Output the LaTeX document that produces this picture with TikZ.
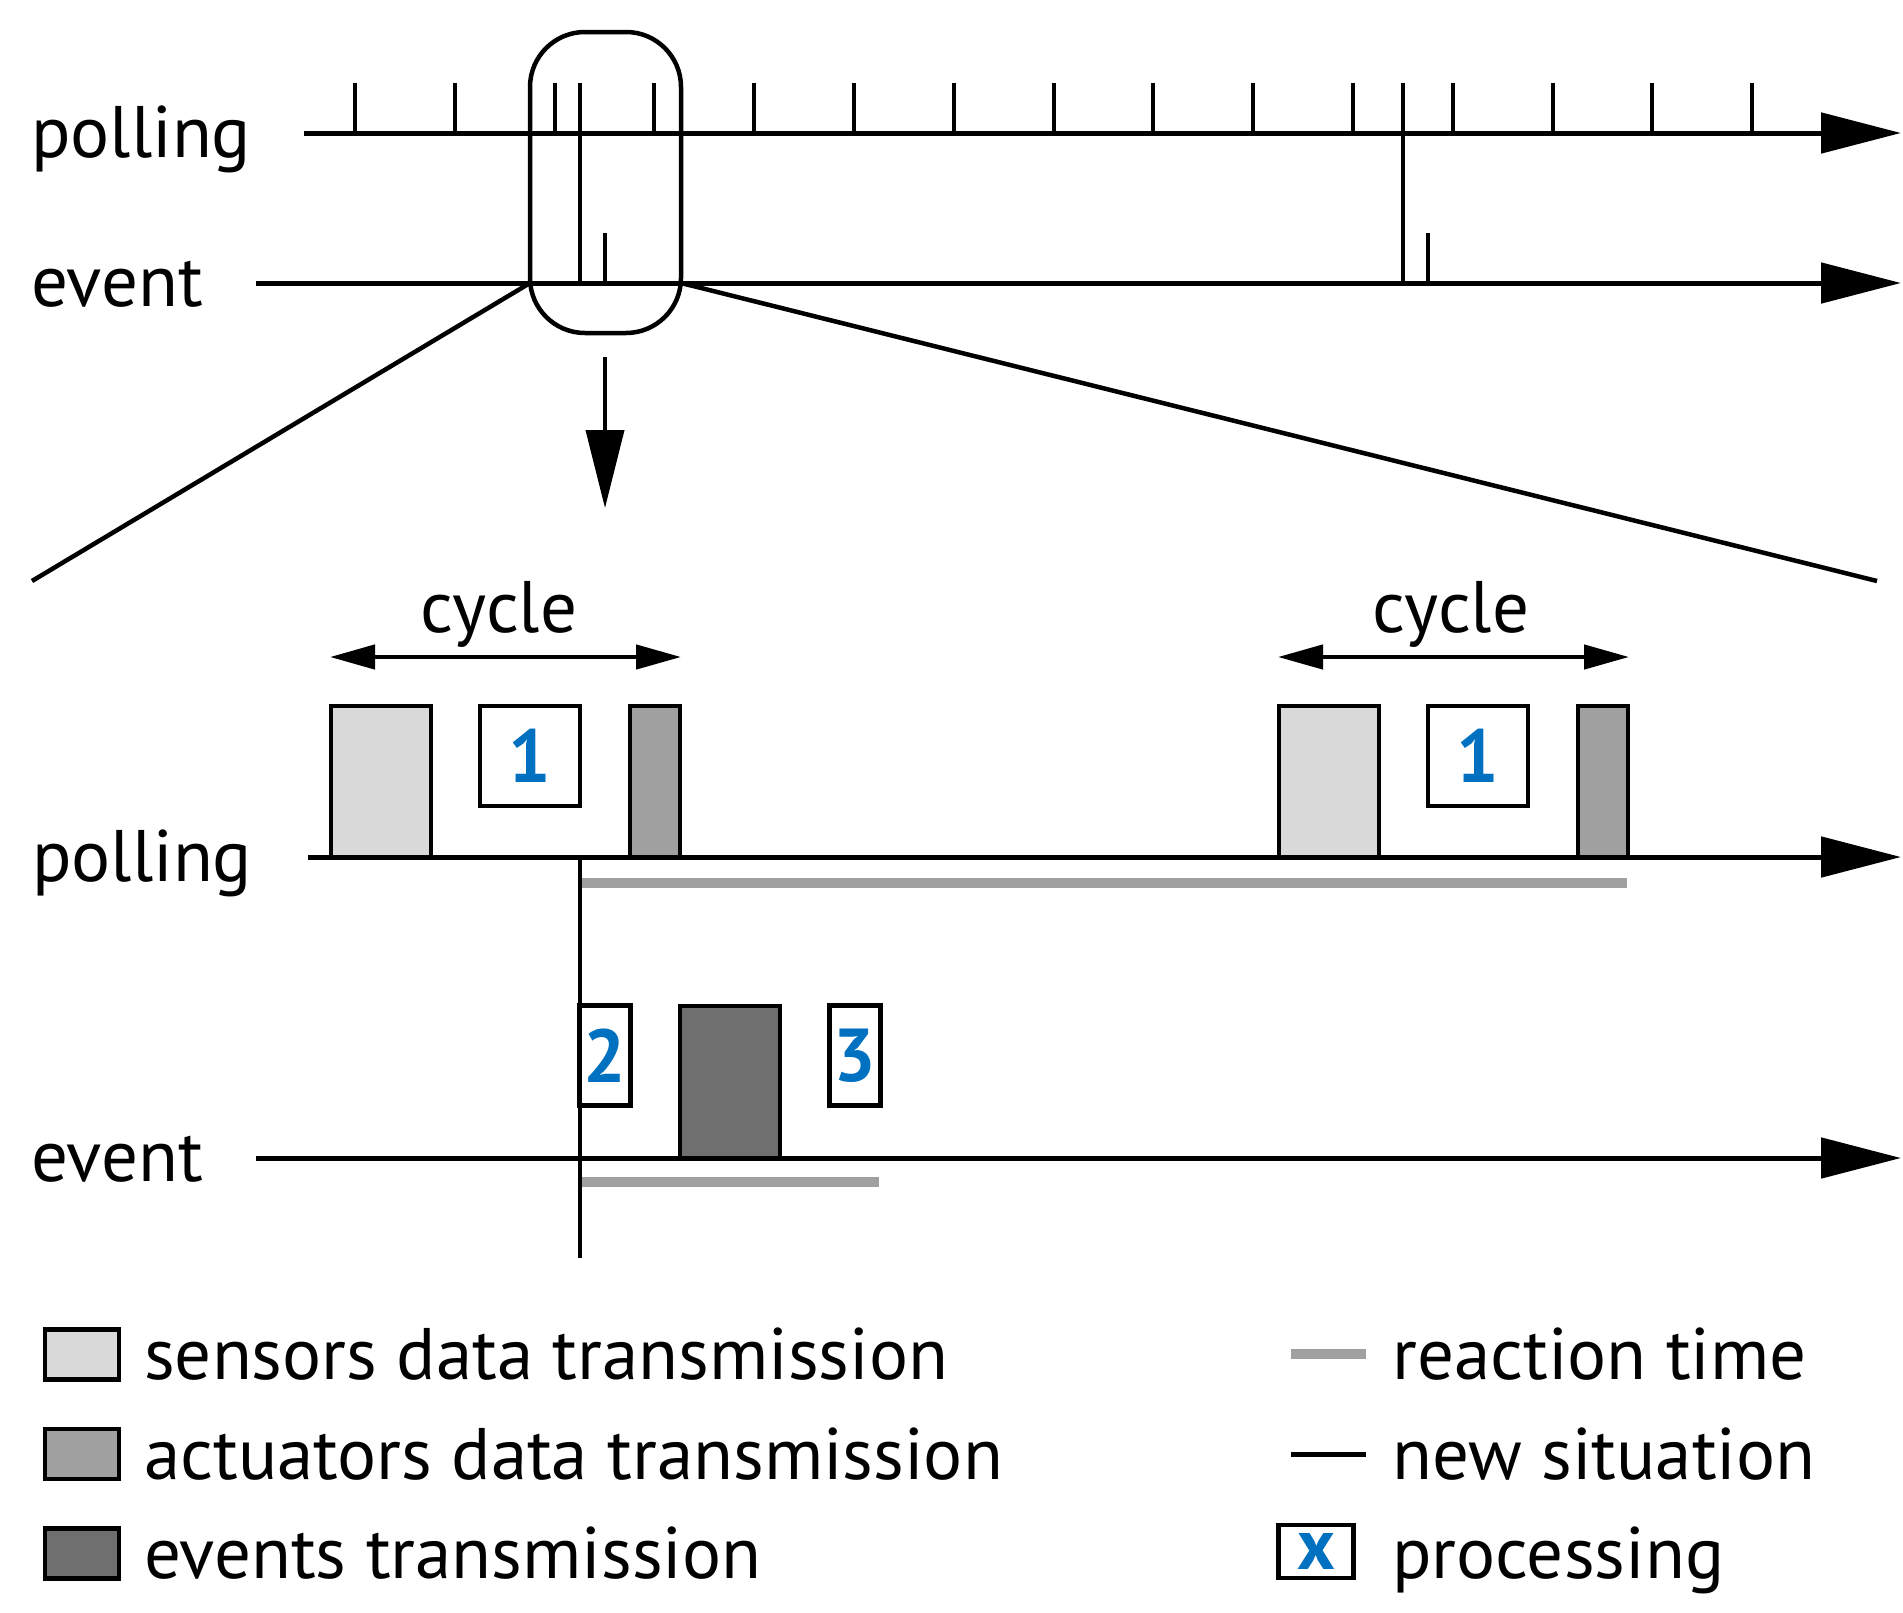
\documentclass[tikz,border=0pt]{standalone}
\usepackage{fontspec}
\setmainfont{PT Sans}
\usetikzlibrary{arrows.meta}
\definecolor{lightfill}{HTML}{D9D9D9}
\definecolor{midfill}{HTML}{A0A0A0}
\definecolor{darkfill}{HTML}{6F6F6F}
\definecolor{numblue}{HTML}{0070C0}
\definecolor{reactgray}{HTML}{A0A0A0}
\begin{document}
\begin{tikzpicture}[x=1pt,y=-1pt,
  axisline/.style={line width=5pt,-{Triangle[length=80pt,width=40pt]}},
  tickline/.style={line width=4pt},
  frame/.style={draw,line width=4.5pt,inner sep=0pt,outer sep=0pt},
  sbox/.style={frame,fill=lightfill,minimum width=100pt,minimum height=151pt},
  abox/.style={frame,fill=midfill,minimum width=50pt,minimum height=151pt},
  ebox/.style={frame,fill=darkfill,minimum width=100pt,minimum height=152pt},
  pbox/.style={frame,fill=white,minimum height=100pt,text=numblue,font=\fontsize{75}{75}\selectfont\bfseries},
  lbl/.style={font=\fontsize{73}{86}\selectfont,inner sep=0pt,anchor=base west},
  cyclearrow/.style={line width=4.5pt,{Triangle[length=45pt,width=24pt]}-{Triangle[length=45pt,width=24pt]}},
  react/.style={line width=9.5pt,draw=reactgray},
  newsit/.style={line width=4pt}]
\useasboundingbox (0,0) rectangle (1903,1612);

% ---------- top overview ----------
\node[lbl] (tpoll) at (31,157) {polling};
\node[lbl] (tevent) at (31,306) {event};
\coordinate (tpS) at (304,133);
\coordinate (tpE) at (1901,133);
\coordinate (teS) at (256,283);
\coordinate (teE) at (1901,283);
\draw[axisline] (tpS) -- (tpE);
\draw[axisline] (teS) -- (teE);
\foreach \k in {0,...,14}{
  \coordinate (tk\k a) at ({355+99.8*\k},83);
  \coordinate (tk\k b) at ({355+99.8*\k},133);
  \draw[tickline] (tk\k a) -- (tk\k b);
}
\coordinate (ns1a) at (579.5,83);
\coordinate (ns1b) at (579.5,283);
\coordinate (ns2a) at (1403,83);
\coordinate (ns2b) at (1403,283);
\draw[tickline] (ns1a) -- (ns1b);
\draw[tickline] (ns2a) -- (ns2b);
\coordinate (ev1a) at (605,233);
\coordinate (ev1b) at (605,283);
\coordinate (ev2a) at (1428,233);
\coordinate (ev2b) at (1428,283);
\draw[tickline] (ev1a) -- (ev1b);
\draw[tickline] (ev2a) -- (ev2b);

\node[draw,line width=4.5pt,rounded corners=55pt,minimum width=151pt,minimum height=301pt,inner sep=0pt] (zoomwin) at (605.5,182.5) {};
\coordinate (zl1) at (530,283);
\coordinate (zl2) at (32,581);
\coordinate (zr1) at (681,283);
\coordinate (zr2) at (1877,581);
\draw[line width=4.5pt] (zl1) -- (zl2);
\draw[line width=4.5pt] (zr1) -- (zr2);
\coordinate (arrS) at (605,357);
\coordinate (arrE) at (605,508);
\draw[line width=4pt,-{Triangle[length=78pt,width=38pt]}] (arrS) -- (arrE);

% ---------- detail ----------
\node[lbl] (bpoll) at (32,881) {polling};
\node[lbl] (bevent) at (31,1181) {event};
\coordinate (bpS) at (308,857);
\coordinate (bpE) at (1901,857);
\coordinate (beS) at (256,1158);
\coordinate (beE) at (1901,1158);

% reaction times
\coordinate (r1a) at (582,883);
\coordinate (r1b) at (1627,883);
\coordinate (r2a) at (582,1182);
\coordinate (r2b) at (879,1182);
\draw[react] (r1a) -- (r1b);
\draw[react] (r2a) -- (r2b);

% new situation
\coordinate (nsa) at (579.5,857);
\coordinate (nsb) at (579.5,1258);
\draw[newsit] (nsa) -- (nsb);

\draw[axisline] (bpS) -- (bpE);
\draw[axisline] (beS) -- (beE);

% left cycle
\node[font=\fontsize{73}{86}\selectfont,inner sep=0pt,anchor=base] (cyc1) at (499,632) {cycle};
\coordinate (c1l) at (330,657);
\coordinate (c1r) at (681,657);
\draw[cyclearrow] (c1l) -- (c1r);
\node[sbox] (s1) at (381,781.5) {};
\node[pbox,minimum width=100pt] (p1) at (530,756) {1};
\node[abox] (a1) at (655,781.5) {};

% right cycle
\node[font=\fontsize{73}{86}\selectfont,inner sep=0pt,anchor=base] (cyc2) at (1451,632) {cycle};
\coordinate (c2l) at (1278,657);
\coordinate (c2r) at (1629,657);
\draw[cyclearrow] (c2l) -- (c2r);
\node[sbox] (s2) at (1329,781.5) {};
\node[pbox,minimum width=100pt] (p2) at (1478,756) {1};
\node[abox] (a2) at (1603,781.5) {};

% event boxes
\node[pbox,minimum width=51pt] (p3) at (605,1055.5) {2};
\node[ebox] (e1) at (730,1082) {};
\node[pbox,minimum width=51pt] (p4) at (855,1055.5) {3};

% ---------- legend ----------
\node[frame,fill=lightfill,minimum width=74pt,minimum height=50pt] (lg1) at (82,1354.5) {};
\node[frame,fill=midfill,minimum width=74pt,minimum height=50pt] (lg2) at (82,1454) {};
\node[frame,fill=darkfill,minimum width=74pt,minimum height=50pt] (lg3) at (82,1553.5) {};
\node[lbl] (lt1) at (144,1379) {sensors data transmission};
\node[lbl] (lt2) at (144,1479) {actuators data transmission};
\node[lbl] (lt3) at (144,1578) {events transmission};

\coordinate (lr1) at (1291,1354);
\coordinate (lr2) at (1366,1354);
\draw[react] (lr1) -- (lr2);
\coordinate (ln1) at (1291,1454);
\coordinate (ln2) at (1366,1454);
\draw[line width=5pt] (ln1) -- (ln2);
\node[frame,fill=white,minimum width=75pt,minimum height=53pt,text=numblue,font=\fontsize{72}{72}\selectfont\bfseries] (lg4) at (1316,1551.5) {x};
\node[lbl] (lt4) at (1392,1379) {reaction time};
\node[lbl] (lt5) at (1392,1479) {new situation};
\node[lbl] (lt6) at (1392,1578) {processing};
\end{tikzpicture}
\end{document}
